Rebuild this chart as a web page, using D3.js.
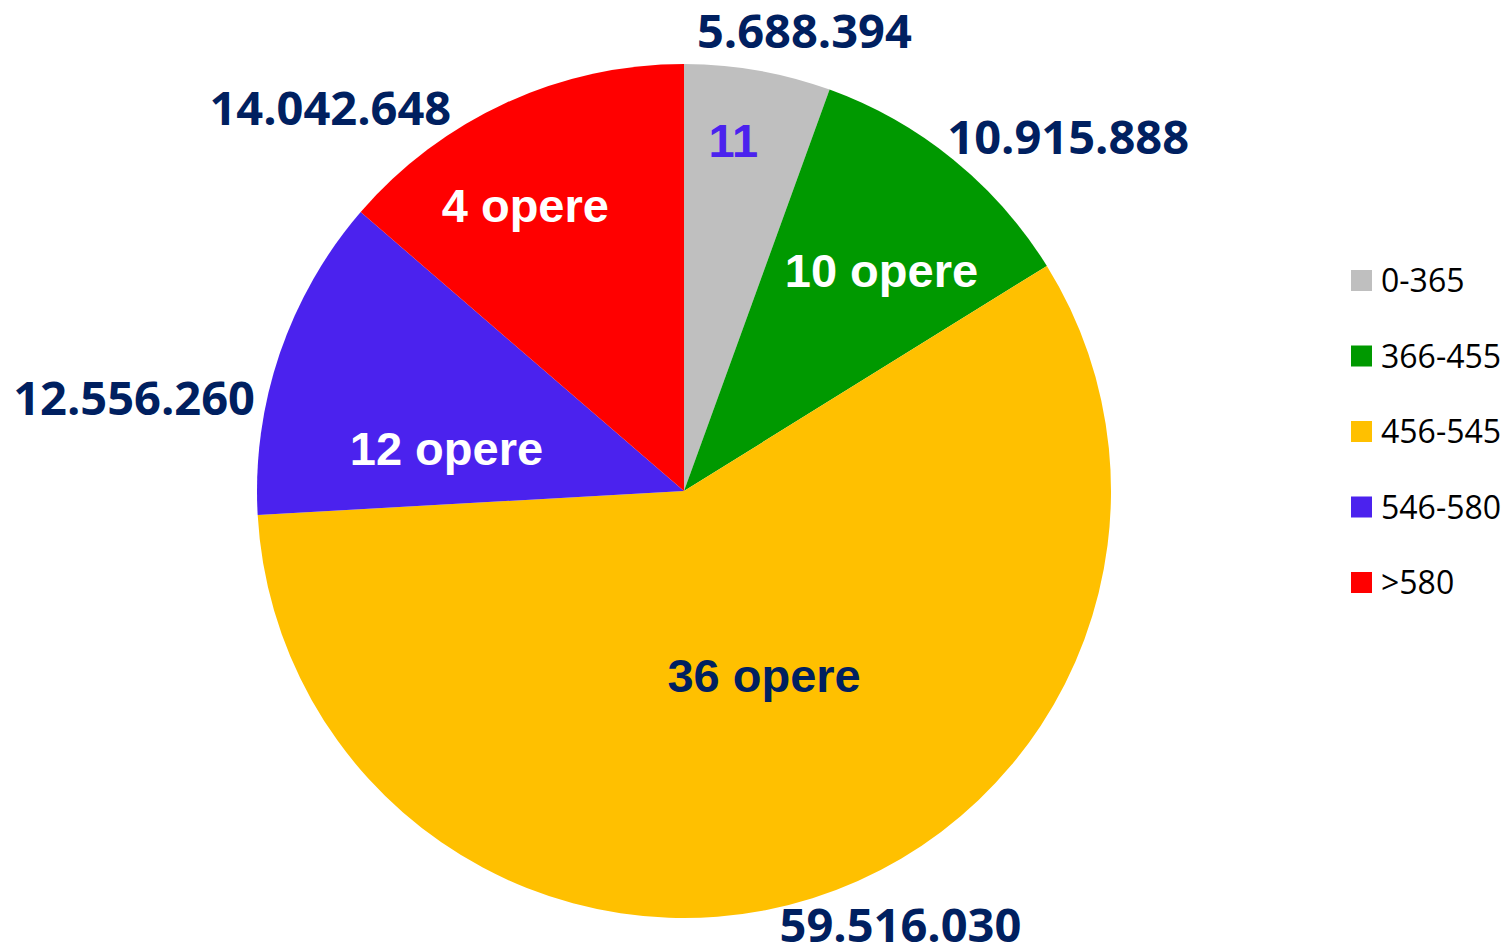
<!DOCTYPE html>
<html>
<head>
<meta charset="utf-8">
<script src="https://cdn.jsdelivr.net/npm/d3@7"></script>
<style>
  body { margin: 0; background: #fff; }
  svg { display: block; }
</style>
</head>
<body>
<script>
// Dati del grafico
const categorie = ["0-365", "366-455", "456-545", "546-580", ">580"];
const valori = [5688394, 10915888, 59516030, 12556260, 14042648];
const etichetteInterne = ["11", "10 opere", "36 opere", "12 opere", "4 opere"];
const colori = ["#bfbfbf", "#009900", "#ffc000", "#4b22ee", "#ff0000"];

const WIDTH = 1508;
const HEIGHT = 950;
const CENTRO = { x: 684, y: 491 };
const RAGGIO = 427;

// spostamenti delle etichette rispetto al centroide (come nell'originale)
const spostInterno = [[5, -99], [36, -22], [3, -60], [5, 40], [-52, -53]];
const spostEsterno = [[39, 3], [88, 11], [75, -14], [-105, 58], [-158, 44]];
const coloriInterni = ["#4b22ee", "#ffffff", "#002060", "#ffffff", "#ffffff"];

const dati = categorie.map((c, i) => ({ cat: c, val: valori[i], i }));
const formato = d3.formatLocale({ decimal: ",", thousands: ".", grouping: [3], currency: ["", "€"] }).format(",");

const svg = d3.select("body")
  .append("svg")
  .attr("width", WIDTH)
  .attr("height", HEIGHT);

const torta = d3.pie().sort(null).value(d => d.val);
const arco = d3.arc().innerRadius(0).outerRadius(RAGGIO);
const arcoInterno = d3.arc().innerRadius(RAGGIO * 0.6).outerRadius(RAGGIO * 0.6);
const arcoEsterno = d3.arc().innerRadius(470).outerRadius(470);

const contenitore = svg.append("g")
  .attr("transform", `translate(${CENTRO.x}, ${CENTRO.y})`);

const fette = torta(dati);

contenitore.selectAll("path")
  .data(fette)
  .join("path")
  .attr("d", arco)
  .attr("fill", d => colori[d.data.i]);

// etichette interne (numero di opere)
contenitore.selectAll("text.interna")
  .data(fette)
  .join("text")
  .attr("class", "interna")
  .attr("x", d => arcoInterno.centroid(d)[0] + spostInterno[d.data.i][0])
  .attr("y", d => arcoInterno.centroid(d)[1] + spostInterno[d.data.i][1])
  .attr("dy", "0.36em")
  .attr("text-anchor", "middle")
  .attr("font-family", "'Liberation Sans', Arial, sans-serif")
  .attr("font-weight", "bold")
  .attr("font-size", 47)
  .attr("fill", d => coloriInterni[d.data.i])
  .text(d => etichetteInterne[d.data.i]);

// etichette esterne (valori)
contenitore.selectAll("text.esterna")
  .data(fette)
  .join("text")
  .attr("class", "esterna")
  .attr("x", d => arcoEsterno.centroid(d)[0] + spostEsterno[d.data.i][0])
  .attr("y", d => arcoEsterno.centroid(d)[1] + spostEsterno[d.data.i][1])
  .attr("dy", "0.36em")
  .attr("text-anchor", "middle")
  .attr("font-family", "'Open Sans', sans-serif")
  .attr("font-weight", "bold")
  .attr("font-size", 47)
  .attr("fill", "#002060")
  .text(d => formato(d.data.val));

// legenda
const escalaLegenda = d3.scalePoint()
  .domain(categorie)
  .range([280.5, 582.5]);

const legenda = svg.append("g")
  .selectAll("g")
  .data(dati)
  .join("g")
  .attr("transform", d => `translate(1351, ${escalaLegenda(d.cat)})`);

legenda.append("rect")
  .attr("x", 0)
  .attr("y", -10.5)
  .attr("width", 21)
  .attr("height", 21)
  .attr("fill", d => colori[d.i]);

legenda.append("text")
  .attr("x", 30)
  .attr("dy", "0.36em")
  .attr("font-family", "'Open Sans', sans-serif")
  .attr("font-size", 32)
  .attr("fill", "#000")
  .text(d => d.cat);
</script>
</body>
</html>
